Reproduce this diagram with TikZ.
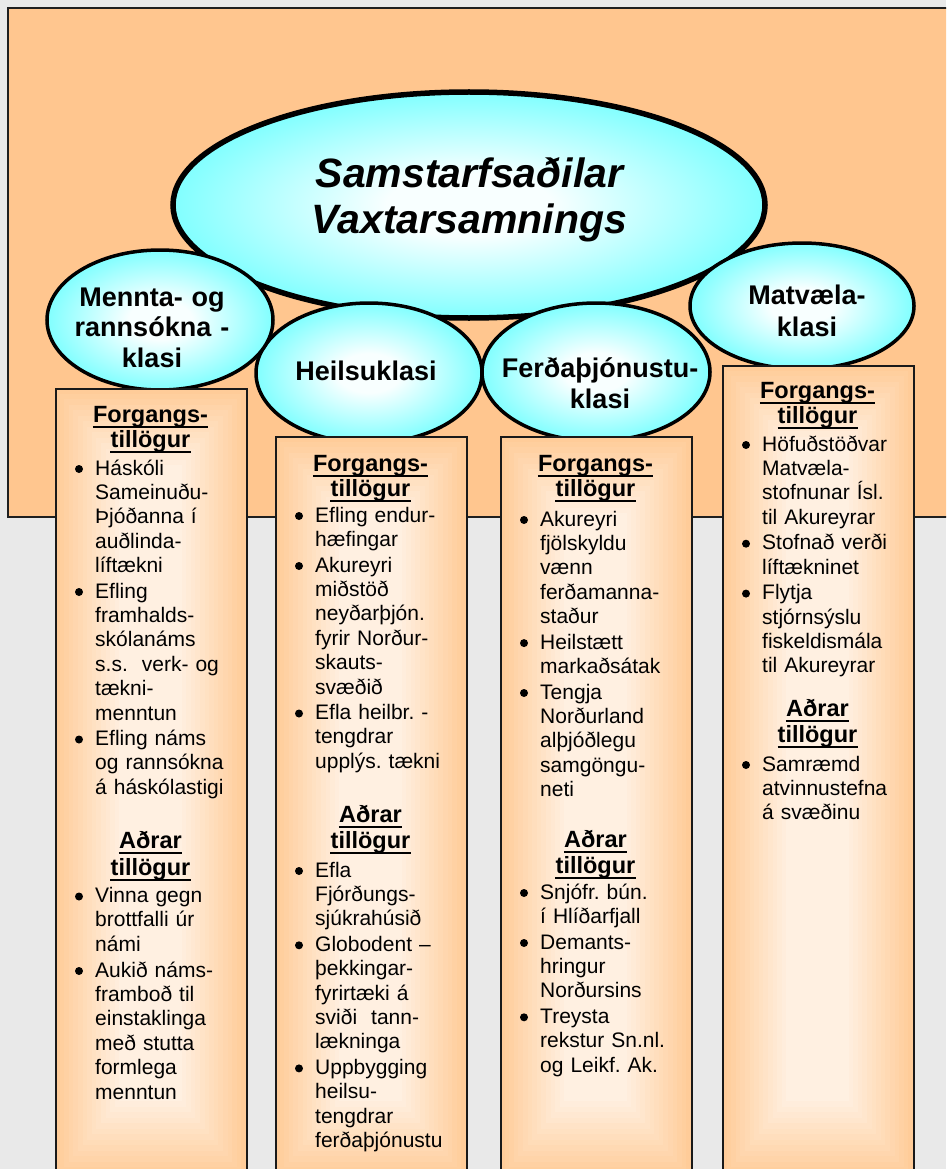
\documentclass[tikz,border=0pt]{standalone}
\usepackage{fontspec}
\setmainfont{Liberation Sans}
\usetikzlibrary{shapes.geometric,calc}
\frenchspacing
\definecolor{pagebg}{HTML}{E9E9E9}
\definecolor{panel}{HTML}{FFC68F}
\definecolor{peach}{HTML}{FFCC99}
\definecolor{peachlight}{HTML}{FFF0E1}
\definecolor{ellcyan}{HTML}{1EFFFF}
\definecolor{ellwhite}{HTML}{F8FFFF}
\pgfdeclareradialshading{ellshade}{\pgfpoint{0bp}{0bp}}{color(0bp)=(ellwhite); color(7bp)=(ellwhite); color(40bp)=(ellcyan); color(50bp)=(ellcyan)}
\newcommand\colitem[4]{\fill (#2-16,#3-6) circle (4pt); \node[body] (#1) at (#2,#3) {#4};}
\newcommand\colhead[4]{\node[head] (#1) at (#2,#3) {#4}; \draw[uline] ([yshift=-4.5pt]#1.base west) -- ([yshift=-4.5pt]#1.base east);}
\newcommand\colbox[3]{%
  \foreach \i in {0,...,14}{\pgfmathsetmacro\p{\i*100/14}\fill[peachlight!\p!peach] (#2+\i*4.6,#3+\i*5.5) rectangle (#2+191-\i*4.6,1178-\i*5.5);}
  \node[boxline, minimum height=1178pt-#3pt, anchor=north west] (#1) at (#2,#3) {};}
\begin{document}
\begin{tikzpicture}[x=1pt,y=-1pt,
  body/.style={font=\fontsize{21}{24.4}\selectfont, text width=180pt, align=left, inner sep=0pt, anchor=base west},
  head/.style={font=\fontsize{23.5}{25.5}\selectfont\bfseries, inner sep=0pt, anchor=base},
  uline/.style={line width=2pt},
  boxline/.style={draw=black!90, line width=2pt, minimum width=191pt, inner sep=0pt},
  ell/.style={ellipse, draw=black, shading=ellshade, inner sep=0pt, line width=3.5pt},
  elltext/.style={font=\fontsize{27}{30.5}\selectfont\bfseries, text width=240pt, align=center, inner sep=0pt, anchor=base},
  maintext/.style={font=\fontsize{41}{47}\selectfont\bfseries\itshape, text width=520pt, align=center, inner sep=0pt, anchor=base}]
\useasboundingbox (0,0) rectangle (946,1169);
\clip (0,0) rectangle (946,1169);
\fill[pagebg] (0,0) rectangle (946,1169);
\draw[fill=panel, draw=black!88, line width=2pt] (8,8) rectangle (980,517);
% ellipses
\node[ell, line width=5.5pt, minimum width=592pt, minimum height=226pt] (main) at (469,205) {};
\node[ell, minimum width=224pt, minimum height=126pt] (matv) at (802,306) {};
\node[ell, minimum width=228pt, minimum height=138pt] (ferd) at (596,372) {};
\node[ell, minimum width=226pt, minimum height=140pt] (heil) at (369,373) {};
\node[ell, minimum width=226pt, minimum height=140pt] (mennta) at (160,320) {};
\node[maintext] (maint) at (469.5,187) {Samstarfsaðilar\\Vaxtarsamnings};
\node[elltext] (menntat) at (152,306) {Mennta- og\\rannsókna -\\klasi};
\node[elltext] (heilt) at (366,380) {Heilsuklasi};
\node[elltext, font=\fontsize{27}{31}\selectfont\bfseries] (ferdt) at (600,377) {Ferðaþjónustu-\\klasi};
\node[elltext, font=\fontsize{27}{32}\selectfont\bfseries] (matvt) at (807,304) {Matvæla-\\klasi};
% columns
\colbox{box1}{55}{388}
\colbox{box2}{275}{436}
\colbox{box3}{500}{436}
\colbox{box4}{722}{365}
% column 1
\colhead{c1ha}{150.5}{422}{Forgangs-}
\colhead{c1hb}{150.5}{447.5}{tillögur}
\colitem{c1i1}{95}{475}{Háskóli\\Sameinuðu-\\Þjóðanna í\\auðlinda-\\líftækni}
\colitem{c1i2}{95}{598}{Efling\\framhalds-\\skólanáms\\s.s.\ \ verk- og\\tækni-\\menntun}
\colitem{c1i3}{95}{745.5}{Efling náms\\og rannsókna\\á háskólastigi}
\colhead{c1hc}{150.5}{848}{Aðrar}
\colhead{c1hd}{150.5}{875}{tillögur}
\colitem{c1i4}{95}{902.5}{Vinna gegn\\brottfalli úr\\námi}
\colitem{c1i5}{95}{977}{Aukið náms-\\framboð til\\einstaklinga\\með stutta\\formlega\\menntun}
% column 2
\colhead{c2ha}{370.5}{471}{Forgangs-}
\colhead{c2hb}{370.5}{496.5}{tillögur}
\colitem{c2i1}{315}{522}{Efling endur-\\hæfingar}
\colitem{c2i2}{315}{572}{Akureyri\\miðstöð\\neyðarþjón.\\fyrir Norður-\\skauts-\\svæðið}
\colitem{c2i3}{315}{719.5}{Efla heilbr. -\\tengdrar\\upplýs. tækni}
\colhead{c2hc}{370.5}{822}{Aðrar}
\colhead{c2hd}{370.5}{848}{tillögur}
\colitem{c2i4}{315}{877}{Efla\\Fjórðungs-\\sjúkrahúsið}
\colitem{c2i5}{315}{951.3}{Globodent –\\þekkingar-\\fyrirtæki á\\sviði\ \ tann-\\lækninga}
\colitem{c2i6}{315}{1074.4}{Uppbygging\\heilsu-\\tengdrar\\ferðaþjónustu}
% column 3
\colhead{c3ha}{595.5}{471}{Forgangs-}
\colhead{c3hb}{595.5}{496.5}{tillögur}
\colitem{c3i1}{540}{526}{Akureyri\\fjölskyldu\\vænn\\ferðamanna-\\staður}
\colitem{c3i2}{540}{649.1}{Heilstætt\\markaðsátak}
\colitem{c3i3}{540}{699}{Tengja\\Norðurland\\alþjóðlegu\\samgöngu-\\neti}
\colhead{c3hc}{595.5}{847}{Aðrar}
\colhead{c3hd}{595.5}{873.5}{tillögur}
\colitem{c3i4}{540}{899}{Snjófr. bún.\\í Hlíðarfjall}
\colitem{c3i5}{540}{949}{Demants-\\hringur\\Norðursins}
\colitem{c3i6}{540}{1023.3}{Treysta\\rekstur Sn.nl.\\og Leikf. Ak.}
% column 4
\colhead{c4ha}{817.5}{398}{Forgangs-}
\colhead{c4hb}{817.5}{423.5}{tillögur}
\colitem{c4i1}{762}{451}{Höfuðstöðvar\\Matvæla-\\stofnunar Ísl.\\til Akureyrar}
\colitem{c4i2}{762}{549.7}{Stofnað verði\\líftækninet}
\colitem{c4i3}{762}{599.6}{Flytja\\stjórnsýslu\\fiskeldismála\\til Akureyrar}
\colhead{c4hc}{817.5}{716}{Aðrar}
\colhead{c4hd}{817.5}{742}{tillögur}
\colitem{c4i4}{762}{771}{Samræmd\\atvinnustefna\\á svæðinu}
\end{tikzpicture}
\end{document}
